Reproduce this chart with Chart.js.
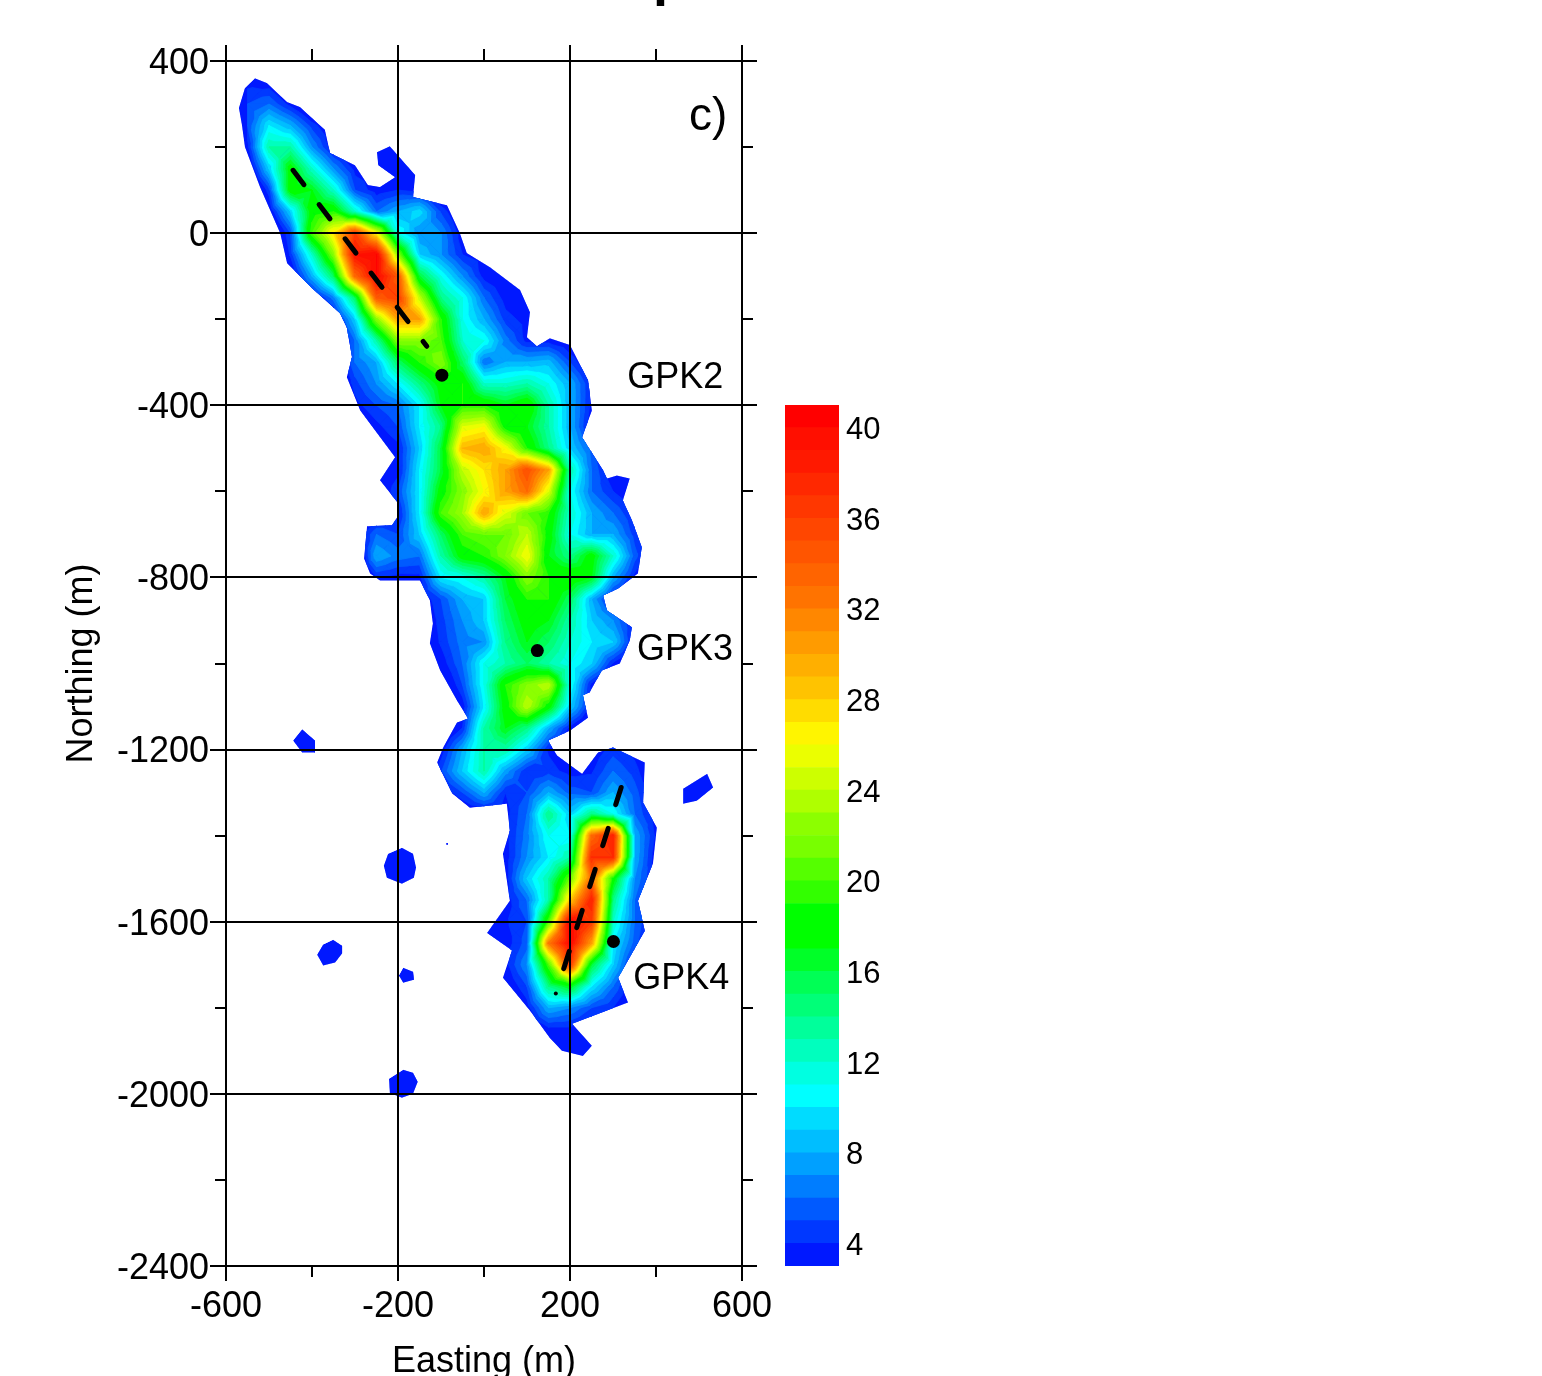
<!DOCTYPE html>
<html>
<head>
<meta charset="utf-8">
<title>Easting / Northing contour map</title>
<script src="https://cdn.jsdelivr.net/npm/chart.js@4"></script>
<style>
    body { margin: 0; background: #fff; }
    #map { position: absolute; left: 0; top: 0; }
    #bar { position: absolute; left: 785px; top: 405px; }
</style>
</head>
<body>
<canvas id="map" width="1542" height="1376"></canvas>
<canvas id="bar" width="120" height="861"></canvas>
<script>
// AXES
const eastMajor = [-600, -200, 200, 600];
const eastMinor = [-400, 0, 400];
const northMajor = [400, 0, -400, -800, -1200, -1600, -2000, -2400];
const northMinor = [200, -200, -600, -1000, -1400, -1800, -2200];

// COLOUR SCALE: bandColors[i] is the colour of bandLevels[i] .. bandLevels[i] + 1
const bandLevels = [3,4,5,6,7,8,9,10,11,12,13,14,15,16,17,18,19,20,21,22,23,24,25,26,27,28,29,30,31,32,33,34,35,36,37,38,39,40];
const bandColors = [
    "#0018ff","#0038ff","#005aff","#007dff","#00a0ff","#00beff","#00dcff","#00ffff",
    "#00ffe1","#00ffbe","#00ff9b","#00ff78","#00ff55","#00ff28","#00ff00","#00ff00",
    "#32ff00","#55ff00","#78ff00","#8cff00","#afff00","#cdff00","#ebff00","#fff500",
    "#ffdc00","#ffc300","#ffaf00","#ff9b00","#ff8700","#ff7300","#ff6400","#ff5500",
    "#ff4600","#ff3700","#ff2800","#ff1900","#ff0f00","#ff0000"
];
const barTicks = [4, 8, 12, 16, 20, 24, 28, 32, 36, 40];

// OUTER EDGE OF THE LOWEST BAND (null starts a new ring)
const edgeEast = [
    -533,-505,-458,-428,-370,-358,-300,-270,-242,-207,-246,-249,-219,-160,-165,-86,-56,-40,14,84,107,100,123,153,200,242,251,228,277,286,309,339,323,344,367,358,312,277,286,344,339,316,274,246,230,242,200,149,170,228,265,300,374,370,402,393,358,374,312,335,205,251,230,181,153,107,44,65,7,60,44,60,53,-33,-74,-109,-95,-63,-37,-63,-102,-126,-119,-126,-149,-242,-265,-279,-272,-214,-202,-202,-242,-207,-288,-319,-307,-319,-335,-400,-458,-474,-521,-556,-563,-570,-556,
    null,-423,-393,-393,-423,-444,
    null,-191,-165,-158,-163,-191,-226,-233,-223,
    null,-351,-330,-330,-346,-374,-388,-374,
    null,-188,-165,-163,-188,-198,
    null,-188,-165,-154,-165,-191,-219,-221,
    null,463,519,533,495,463,
    null,-88,-84,-84,-88
];
const edgeNorth = [
    360,349,305,293,240,186,158,112,107,130,158,188,202,135,84,65,0,-46,-79,-132,-184,-242,-263,-244,-260,-342,-412,-474,-551,-570,-563,-570,-621,-667,-730,-791,-826,-842,-877,-916,-946,-1000,-1016,-1067,-1074,-1126,-1156,-1179,-1214,-1256,-1207,-1195,-1230,-1323,-1381,-1465,-1551,-1621,-1730,-1788,-1837,-1888,-1912,-1900,-1870,-1807,-1730,-1667,-1626,-1551,-1442,-1388,-1326,-1335,-1302,-1230,-1195,-1137,-1128,-1086,-1016,-953,-907,-853,-807,-807,-791,-756,-681,-679,-660,-625,-574,-521,-412,-335,-288,-219,-186,-128,-70,0,107,200,251,291,337,
    null,-1153,-1179,-1207,-1207,-1179,
    null,-1428,-1442,-1474,-1498,-1512,-1498,-1470,-1442,
    null,-1642,-1656,-1674,-1695,-1702,-1677,-1653,
    null,-1707,-1716,-1735,-1742,-1725,
    null,-1944,-1951,-1972,-2000,-2009,-1998,-1965,
    null,-1291,-1256,-1288,-1319,-1326,
    null,-1417,-1417,-1421,-1421
];

// GRIDDED VALUES
const gridEast = [-550,-500,-450,-400,-350,-300,-250,-200,-150,-100,-50,0,50,100,150,200,250,300,350,400,450,500];
const gridNorth = [350,300,250,200,150,100,50,0,-50,-100,-150,-200,-250,-300,-350,-400,-450,-500,-550,-600,-650,-700,-750,-800,-850,-900,-950,-1000,-1050,-1100,-1150,-1200,-1250,-1300,-1350,-1400,-1450,-1500,-1550,-1600,-1650,-1700,-1750,-1800,-1850,-1900];
const gridValues = [
    [3.6,3.2,1,0,0,0,0,0,0,0,0,0,0,0,0,0,0,0,0,0,0,0],
    [5,6,3.5,1,0,0,0,0,0,0,0,0,0,0,0,0,0,0,0,0,0,0],
    [5,10,8,4.5,2.5,0,0,0,0,0,0,0,0,0,0,0,0,0,0,0,0,0],
    [3.5,13,13,7,3,1.5,2.5,3.3,1.5,0,0,0,0,0,0,0,0,0,0,0,0,0],
    [1.5,9,18,12,7,3.5,3.4,3.8,2.5,0,0,0,0,0,0,0,0,0,0,0,0,0],
    [0,4.5,18,17,12,5,3.3,4,3.5,1.5,0,0,0,0,0,0,0,0,0,0,0,0],
    [0,2.5,9,18,19,12,6,8,9.5,4.8,2,0,0,0,0,0,0,0,0,0,0,0],
    [0,0,5,20,27,36,26,11,7,7,3,1,0,0,0,0,0,0,0,0,0,0],
    [0,0,4.2,12,22,39,40,22,9,7,4,3.3,1,0,0,0,0,0,0,0,0,0],
    [0,0,2,8,15,33,40,34,16,11,7,3.5,3,1,0,0,0,0,0,0,0,0],
    [0,0,0,2.5,6.5,15,34,36,24,14,11,6,3.4,2.5,1,0,0,0,0,0,0,0],
    [0,0,0,0,2.5,9,22,30,30,19,11,8,4.5,3.5,2,0,0,0,0,0,0,0],
    [0,0,0,0,1,6,13,22,22,20,12,11,6.5,3.6,3.5,2.5,1,0,0,0,0,0],
    [0,0,0,0,1,6,8,15,19,22,15,6,8,8,8.5,5,2,0,0,0,0,0],
    [0,0,0,0,1,4.5,7,10,14,18,19,12,12,13,11,8,3.7,1.5,0,0,0,0],
    [0,0,0,0,0,3.5,5,6,10,17,19,19,17,19,13,8,3.6,1.5,0,0,0,0],
    [0,0,0,0,0,2,3.6,5,10,14,25,26,18,17,13,8,3,1,0,0,0,0],
    [0,0,0,0,0,1,2.5,3.6,9,16,29,30,26,19,14,9,5.5,2,1,0,0,0],
    [0,0,0,0,0,0,2,3.5,10,16,24,27,30,35,30,13,6,2.8,2,1,0,0],
    [0,0,0,0,0,0,2,5,10,18,22,26,30,33,25,11,6,4,2.8,1,0,0],
    [0,0,0,0,0,0,2.5,3.5,10,20,23,30,25,21,19,12,8,6,3.8,1.5,0,0],
    [0,0,0,0,0,2.5,6,5,9,15,20,21,21,24,18,11,8,8,4.5,2,0,0],
    [0,0,0,0,0,0,8,6.5,6,13,18,19,22,26,17,14,18,12,5.5,2,0,0],
    [0,0,0,0,0,1.5,4,3.5,3.6,10,11,13,17,22,19,19,17,8,3.6,1.5,0,0],
    [0,0,0,0,0,0,0,0,2.8,5,8,9,16,19,19,15,8,3.3,2,0,0,0],
    [0,0,0,0,0,0,0,0,2,4.5,7,9,15,18,17,13,9,7,3.5,1,0,0],
    [0,0,0,0,0,0,0,0,2,4.2,6.5,7,14,17,15,12,10,9,3.2,1,0,0],
    [0,0,0,0,0,0,0,0,1,3.2,6,11,13,15,13,11,9,3.8,2,0,0,0],
    [0,0,0,0,0,0,0,0,0,1.5,5,11,19,22,24,11,3.5,1.5,0,0,0,0],
    [0,0,0,0,0,0,0,0,0,0,3.2,10,18,24,18,9,3.5,1,0,0,0,0],
    [0,0,0,0,0,0,0,0,0,1.5,4,13,17,14,8,3.5,1,0,0,0,0,0],
    [0,0,0,0,0,0,0,0,0,3.2,8,13,13,9,3.8,2.8,3,4.5,3.5,1.5,0,0],
    [0,0,0,0,0,0,0,0,1,4.8,9,13,7.5,4,4.5,3.5,3.8,6,4.5,2,0,0],
    [0,0,0,0,0,0,0,0,0,2.8,5,8,4,5,8,5.5,5,8,5.5,2.7,0,0],
    [0,0,0,0,0,0,0,0,0,0,2,2.5,3.5,6,14,9,14,11,6,3.3,1,0],
    [0,0,0,0,0,0,0,0,0,0,0,1.5,3.5,6.5,11,10,33,38,8,3.7,1,0],
    [0,0,0,0,0,0,0,0,0,0,0,1.5,3.3,7,10,13,37,37,8,3,1,0],
    [0,0,0,0,0,0,0,0,0,0,0,1.5,3.3,9,13,21,33,18,7,3.3,1,0],
    [0,0,0,0,0,0,0,0,0,0,0,1.5,3.2,6,13,28,38,14,6,2.8,0,0],
    [0,0,0,0,0,0,0,0,0,0,1,3.1,3.8,5,20,40,36,12,6,3,0,0],
    [0,0,0,0,0,0,0,0,0,0,0,2.7,3.3,5.5,32,40,30,10,5.5,2.5,0,0],
    [0,0,0,0,0,0,0,0,0,0,0,1,3.5,7,20,36,16,9,3.3,1,0,0],
    [0,0,0,0,0,0,0,0,0,0,0,0,2.5,5,14,17,10,6,2.5,0,0,0],
    [0,0,0,0,0,0,0,0,0,0,0,0,1,3.3,8,7,5,4,2,0,0,0],
    [0,0,0,0,0,0,0,0,0,0,0,0,0,2.5,3.6,3.6,2.8,2,0,0,0,0],
    [0,0,0,0,0,0,0,0,0,0,0,0,0,0,2.5,3.8,3,1,0,0,0,0]
];

// WELLS
const trackGpk2East = [-444, -133];
const trackGpk2North = [146, -263];
const trackGpk4East = [319, 181];
const trackGpk4North = [-1288, -1723];
const wellEast = [-98, 124, 301];
const wellNorth = [-330, -970, -1646];
const smallDotEast = [167];
const smallDotNorth = [-1767];

// TEXT ON THE MAP
const noteText = ["GPK2", "GPK3", "GPK4", "c)", "p"];
const noteEast = [333, 356, 347, 477, 393];
const noteNorth = [-360, -991, -1756, 240, 553];
const noteSize = [36, 36, 36, 46, 54];
const noteWeight = ["normal", "normal", "normal", "normal", "bold"];

const FONT = "'Liberation Sans', Arial, sans-serif";

// clip a triangle to the part where value >= level
function clipTriangle(tri, level) {
    const out = [];
    for (let i = 0; i < tri.length; i++) {
        const a = tri[i], b = tri[(i + 1) % tri.length];
        if (a[2] >= level) out.push(a);
        if ((a[2] >= level) !== (b[2] >= level)) {
            const t = (level - a[2]) / (b[2] - a[2]);
            out.push([a[0] + t * (b[0] - a[0]), a[1] + t * (b[1] - a[1]), level]);
        }
    }
    return out;
}

// one list of small polygons per band, gaps between them
function bandPoints(level, isTop) {
    const pts = [];
    for (let r = 0; r < gridNorth.length - 1; r++) {
        for (let c = 0; c < gridEast.length - 1; c++) {
            const nw = [gridEast[c], gridNorth[r], gridValues[r][c]];
            const ne = [gridEast[c + 1], gridNorth[r], gridValues[r][c + 1]];
            const se = [gridEast[c + 1], gridNorth[r + 1], gridValues[r + 1][c + 1]];
            const sw = [gridEast[c], gridNorth[r + 1], gridValues[r + 1][c]];
            const mid = [(nw[0] + ne[0]) / 2, (nw[1] + sw[1]) / 2, (nw[2] + ne[2] + se[2] + sw[2]) / 4];
            for (const tri of [[nw, ne, mid], [ne, se, mid], [se, sw, mid], [sw, nw, mid]]) {
                const hi = Math.max(tri[0][2], tri[1][2], tri[2][2]);
                const lo = Math.min(tri[0][2], tri[1][2], tri[2][2]);
                if (hi < level) continue;
                if (lo >= level + 1 && !isTop) continue;
                const poly = clipTriangle(tri, level);
                if (poly.length < 3) continue;
                poly.forEach(p => pts.push({ x: p[0], y: p[1] }));
                pts.push({ x: poly[0][0], y: poly[0][1] });
                pts.push({ x: null, y: null });
            }
        }
    }
    return pts;
}

function xy(xs, ys) {
    return xs.map((x, i) => ({ x: x, y: ys[i] }));
}

function areaSet(points, color) {
    return {
        data: points, showLine: true, fill: "shape", spanGaps: false,
        backgroundColor: color, borderColor: color, borderWidth: 0.8,
        borderJoinStyle: "round", pointRadius: 0, tension: 0
    };
}

function dotSet(xs, ys, color, radius) {
    return {
        data: xy(xs, ys), showLine: false, pointStyle: "circle",
        pointRadius: radius, pointBackgroundColor: color, pointBorderWidth: 0
    };
}

function trackSet(xs, ys) {
    return {
        data: xy(xs, ys), showLine: true, borderColor: "#000", borderWidth: 5,
        borderDash: [18, 25], borderCapStyle: "round", pointRadius: 0, fill: false
    };
}

// the first dataset is painted last, so the top band comes first
const bandSets = [];
for (let i = bandLevels.length - 1; i > 0; i--) {
    bandSets.push(areaSet(bandPoints(bandLevels[i], i === bandLevels.length - 1), bandColors[i]));
}

// fixed sizes so the plot box lands where the picture has it
function fixSize(size) {
    return function (scale) {
        if (scale.isHorizontal()) scale.height = size;
        else scale.width = size;
        scale.paddingLeft = scale.paddingRight = scale.paddingTop = scale.paddingBottom = 0;
    };
}

function frameScale(axis, position, lo, hi, tickValues, opts) {
    return Object.assign({
        type: "linear", axis: axis, position: position, min: lo, max: hi,
        afterBuildTicks: s => { s.ticks = tickValues.map(v => ({ value: v })); },
        afterFit: fixSize(opts.size),
        weight: opts.weight,
        border: { display: false },
        grid: {
            z: 1, drawOnChartArea: !!opts.across, drawTicks: true, tickLength: opts.tick,
            color: "#000", tickColor: "#000", lineWidth: 2, tickWidth: opts.tickWidth || 2
        },
        ticks: { display: false }
    }, opts.extra || {});
}

const labelFont = { family: FONT, size: 36 };
const plainNumber = v => String(v);

new Chart(document.getElementById("map"), {
    type: "scatter",
    data: {
        datasets: [
            trackSet(trackGpk2East, trackGpk2North),
            trackSet(trackGpk4East, trackGpk4North),
            dotSet(wellEast, wellNorth, "#000", 6.5),
            dotSet(smallDotEast, smallDotNorth, "#000", 2),
            ...bandSets,
            areaSet(xy(edgeEast, edgeNorth), bandColors[0])
        ]
    },
    options: {
        responsive: false,
        animation: false,
        events: [],
        layout: { padding: 0 },
        plugins: { legend: { display: false }, tooltip: { enabled: false } },
        scales: {
            x: frameScale("x", "bottom", -600, 600, eastMajor, {
                size: 110, weight: 2, tick: 15, across: true,
                extra: {
                    ticks: { display: true, color: "#000", font: labelFont, padding: 4, maxRotation: 0, autoSkip: false, callback: plainNumber },
                    title: { display: true, text: "Easting (m)", color: "#000", font: { family: FONT, size: 36, lineHeight: 1 }, padding: { top: 0, bottom: -4 } }
                }
            }),
            xMinor: frameScale("x", "bottom", -600, 600, eastMinor, { size: 0, weight: 1, tick: 11 }),
            xTop: frameScale("x", "top", -600, 600, eastMajor, { size: 61, weight: 2, tick: 16 }),
            xTopMinor: frameScale("x", "top", -600, 600, eastMinor, { size: 0, weight: 1, tick: 12 }),
            y: frameScale("y", "left", -2400, 400, northMajor, {
                size: 226, weight: 2, tick: 16, across: true,
                extra: {
                    ticks: { display: true, color: "#000", font: labelFont, padding: 1, labelOffset: 3, autoSkip: false, callback: plainNumber },
                    title: { display: true, text: "Northing (m)", color: "#000", font: { family: FONT, size: 36, lineHeight: 1 }, padding: { top: 64, bottom: 0 } }
                }
            }),
            yMinor: frameScale("y", "left", -2400, 400, northMinor, { size: 0, weight: 1, tick: 11 }),
            yRight: frameScale("y", "right", -2400, 400, northMajor, { size: 800, weight: 2, tick: 15 }),
            yRightMinor: frameScale("y", "right", -2400, 400, northMinor, { size: 0, weight: 1, tick: 11 })
        }
    },
    plugins: [{
        id: "notes",
        // keep the bands inside the outer edge
        beforeDatasetsDraw(chart) {
            const ctx = chart.ctx, sx = chart.scales.x, sy = chart.scales.y;
            ctx.save();
            ctx.beginPath();
            let start = true;
            edgeEast.forEach((e, i) => {
                if (e === null) { ctx.closePath(); start = true; return; }
                const px = sx.getPixelForValue(e), py = sy.getPixelForValue(edgeNorth[i]);
                if (start) ctx.moveTo(px, py); else ctx.lineTo(px, py);
                start = false;
            });
            ctx.closePath();
            ctx.clip();
        },
        afterDatasetsDraw(chart) {
            chart.ctx.restore();
        },
        afterDraw(chart) {
            const ctx = chart.ctx;
            ctx.save();
            ctx.fillStyle = "#000";
            ctx.textAlign = "left";
            ctx.textBaseline = "alphabetic";
            noteText.forEach((t, i) => {
                ctx.font = noteWeight[i] + " " + noteSize[i] + "px " + FONT;
                ctx.fillText(t, chart.scales.x.getPixelForValue(noteEast[i]), chart.scales.y.getPixelForValue(noteNorth[i]));
            });
            ctx.restore();
        }
    }]
});

// COLOUR BAR
new Chart(document.getElementById("bar"), {
    type: "bar",
    data: {
        labels: [""],
        datasets: bandLevels.map((l, i) => ({
            data: [[l, l + 1]], backgroundColor: bandColors[i], borderWidth: 0,
            barPercentage: 1, categoryPercentage: 1, grouped: false
        }))
    },
    options: {
        responsive: false,
        animation: false,
        events: [],
        layout: { padding: 0 },
        plugins: { legend: { display: false }, tooltip: { enabled: false } },
        scales: {
            x: { display: false },
            y: {
                position: "right", min: 3, max: 41,
                afterBuildTicks: s => { s.ticks = barTicks.map(v => ({ value: v })); },
                afterFit: fixSize(66),
                border: { display: false },
                grid: { display: false, drawTicks: false },
                ticks: { color: "#000", font: { family: FONT, size: 31 }, padding: 7, labelOffset: 3, autoSkip: false, callback: plainNumber }
            }
        }
    }
});
</script>
</body>
</html>
